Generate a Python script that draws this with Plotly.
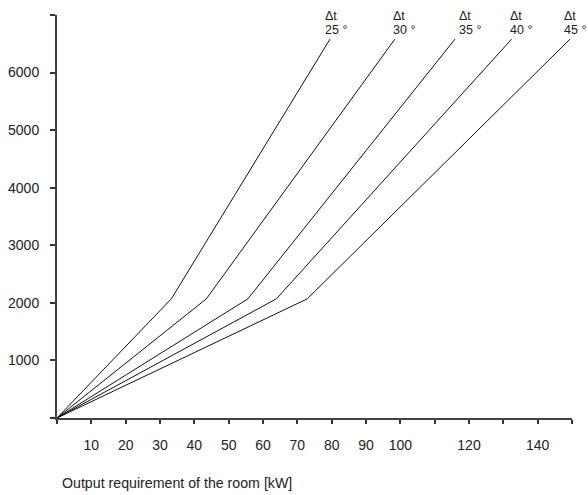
import plotly.graph_objects as go

# Data
delta_t = [25, 30, 35, 40, 45]
break_x = [33.3, 43.5, 55.6, 63.9, 72.9]
break_y = 2070
end_x = [79.5, 98.4, 115.9, 132.4, 149.4]
end_y = 6580

x_tickvals = list(range(0, 151, 10))
x_ticktext = ["" if v in (0, 110, 130, 150) else str(v) for v in x_tickvals]
y_tickvals = list(range(0, 7001, 1000))
y_ticktext = ["" if v in (0, 7000) else str(v) for v in y_tickvals]

label_xshift = [-7, -4, 2, -4, -8]

FONT = "Liberation Sans, Arial, sans-serif"

fig = go.Figure()
for dt, bx, ex in zip(delta_t, break_x, end_x):
    fig.add_trace(go.Scatter(
        x=[0, bx, ex], y=[0, break_y, end_y], mode="lines",
        line=dict(color="#111111", width=1), showlegend=False,
        name=f"Δt {dt} °", hoverinfo="skip"))

for dt, ex, xs in zip(delta_t, end_x, label_xshift):
    fig.add_annotation(x=ex, y=end_y, text="Δt", showarrow=False,
                       xanchor="left", yanchor="middle", xshift=xs, yshift=23.5,
                       font=dict(size=12.5, color="#222222", family=FONT))
    fig.add_annotation(x=ex, y=end_y, text=f"{dt} °", showarrow=False,
                       xanchor="left", yanchor="middle", xshift=xs, yshift=9.5,
                       font=dict(size=12.5, color="#222222", family=FONT))

fig.add_annotation(xref="paper", yref="paper", x=0.005, y=-0.162,
                   text="Output requirement of the room [kW]", showarrow=False,
                   xanchor="left", yanchor="middle",
                   font=dict(size=14.2, color="#222222", family=FONT))

fig.update_xaxes(range=[0, 150], tickvals=x_tickvals, ticktext=x_ticktext,
                 showline=True, linecolor="#444444", linewidth=2,
                 ticks="outside", ticklen=4, tickwidth=2, tickcolor="#333333",
                 showgrid=False, zeroline=False, ticklabelstandoff=9,
                 automargin=False,
                 tickfont=dict(size=14, color="#222222", family=FONT))
fig.update_yaxes(range=[0, 7000], tickvals=y_tickvals, ticktext=y_ticktext,
                 showline=True, linecolor="#444444", linewidth=2,
                 ticks="outside", ticklen=5, tickwidth=2, tickcolor="#333333",
                 showgrid=False, zeroline=False, ticklabelstandoff=8,
                 automargin=False,
                 tickfont=dict(size=14, color="#222222", family=FONT))

fig.update_layout(width=588, height=495,
                  margin=dict(l=56.5, r=16.3, t=14.6, b=76.6, pad=0),
                  plot_bgcolor="white", paper_bgcolor="white",
                  font=dict(family=FONT))

fig.write_html("out.html", config={"displayModeBar": False},
               post_script="document.body.style.margin='0';document.body.style.overflow='hidden';")
